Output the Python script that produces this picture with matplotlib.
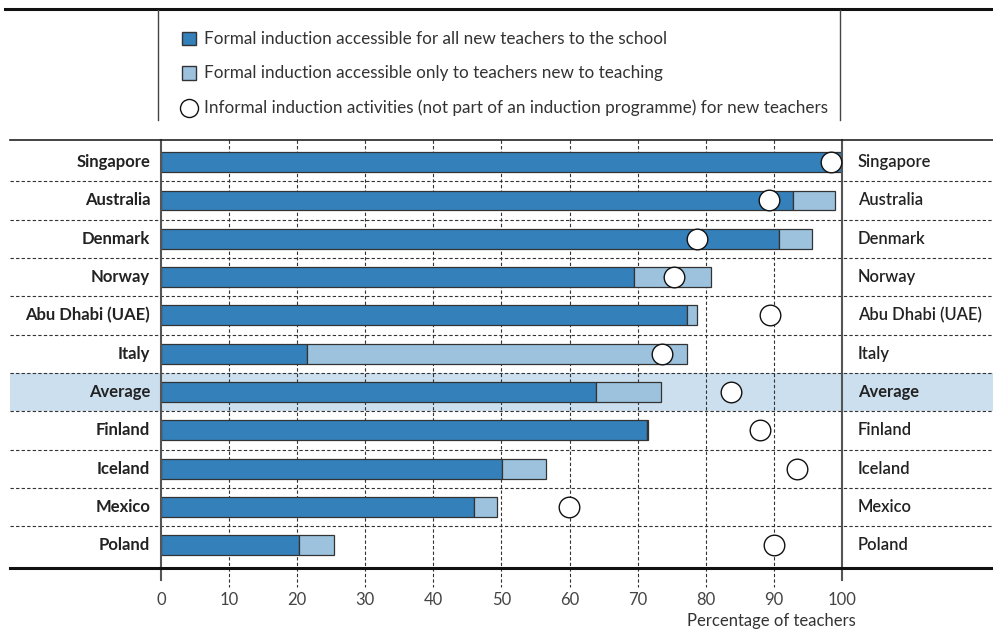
import matplotlib.pyplot as plt
from matplotlib.lines import Line2D
from matplotlib.patches import Rectangle

plt.rcParams['font.family'] = ['Lato', 'DejaVu Sans']

# data
countries = ['Singapore', 'Australia', 'Denmark', 'Norway', 'Abu Dhabi (UAE)', 'Italy',
             'Average', 'Finland', 'Iceland', 'Mexico', 'Poland']
formal_all = [100.0, 92.8, 90.7, 69.5, 77.2, 21.4, 63.9, 71.4, 50.1, 46.0, 20.3]
formal_new_only = [0.0, 6.2, 4.9, 11.3, 1.5, 55.8, 9.5, 0.1, 6.4, 3.3, 5.1]
informal = [98.4, 89.3, 78.7, 75.3, 89.4, 73.6, 83.7, 88.0, 93.4, 59.9, 90.0]
xticks = [0, 10, 20, 30, 40, 50, 60, 70, 80, 90, 100]

dark = '#3480BA'
light = '#9CC2DE'
band = '#CCDFEE'
W, H = 993, 629

fig = plt.figure(figsize=(9.93, 6.29), dpi=100)
ax = fig.add_axes([161 / W, 1 - 564.5 / H, (842 - 161) / W, (564.5 - 143) / H])
ax.set_xlim(0, 100)
ax.set_ylim(10.5, -0.5)
ax.axis('off')

ypos = list(range(len(countries)))
avg = countries.index('Average')
xl, xr = -22.2, 122.5
ytop, ybot = -0.58, 10.59

# highlight band for the average row (spans the whole width)
ax.add_patch(Rectangle((xl, avg - 0.5), xr - xl, 1, facecolor=band, edgecolor='none',
                       clip_on=False, zorder=0))

# vertical dashed gridlines, running a bit below the axis
for t in xticks[1:-1]:
    ax.plot([t, t], [ytop, 11.1], color='#333333', lw=0.8, ls=(0, (3, 2)),
            clip_on=False, zorder=1)
for t in [0, 100]:
    ax.plot([t, t], [ytop, 10.9], color='#555555', lw=1.5, clip_on=False, zorder=4)

# dashed row separators across the whole figure
for i in range(1, len(countries)):
    ax.plot([xl, xr], [i - 0.5, i - 0.5], color='#333333', lw=0.8, ls=(0, (3, 2)),
            clip_on=False, zorder=1)
ax.plot([xl, xr], [ytop, ytop], color='#222222', lw=1.2, clip_on=False, zorder=4)
ax.plot([xl, xr], [ybot, ybot], color='#111111', lw=2.2, clip_on=False, zorder=4)

ax.barh(ypos, formal_all, height=0.52, color=dark, edgecolor='#333333', lw=0.9, zorder=3)
ax.barh(ypos, formal_new_only, left=formal_all, height=0.52, color=light,
        edgecolor='#333333', lw=0.9, zorder=3)
ax.scatter(informal, ypos, s=220, facecolor='white', edgecolor='#111111', lw=1.0,
           zorder=5, clip_on=False)

for i, c in enumerate(countries):
    ax.text(-1.6, i, c, ha='right', va='center', fontsize=12, fontweight='bold',
            color='#222222')
    ax.text(102.3, i, c, ha='left', va='center', fontsize=11.9,
            fontweight='bold' if c == 'Average' else 'semibold', color='#222222')

for t in xticks:
    ax.text(t, 11.43, str(t), ha='center', va='center', fontsize=12, color='#444444')
ax.text(89.6, 11.98, 'Percentage of teachers', ha='center', va='center', fontsize=12,
        color='#333333')

# legend box at the top
fig.add_artist(Line2D([5 / W, 1], [1 - 9 / H, 1 - 9 / H], color='#111111', lw=2.2))
for xp in [158, 840]:
    fig.add_artist(Line2D([xp / W, xp / W], [1 - 10 / H, 1 - 120 / H], color='#444444', lw=1.0))

leg_items = [('Formal induction accessible for all new teachers to the school', 'sq', dark),
             ('Formal induction accessible only to teachers new to teaching', 'sq', light),
             ('Informal induction activities (not part of an induction programme) for new teachers', 'ci', 'white')]
for k, (lab, kind, col) in enumerate(leg_items):
    yc = 1 - (38.5 + k * 34.5) / H
    if kind == 'sq':
        fig.add_artist(Rectangle((182 / W, yc - 6.5 / H), 14 / W, 13 / H, facecolor=col,
                                 edgecolor='#333333', lw=1.0, transform=fig.transFigure))
    else:
        fig.add_artist(Line2D([189 / W], [yc], marker='o', markersize=13,
                              markerfacecolor='white', markeredgecolor='#111111', mew=1.0))
    fig.text(204 / W, yc, lab, ha='left', va='center', fontsize=12.3, color='#333333')

fig.savefig('out.png', dpi=100)
